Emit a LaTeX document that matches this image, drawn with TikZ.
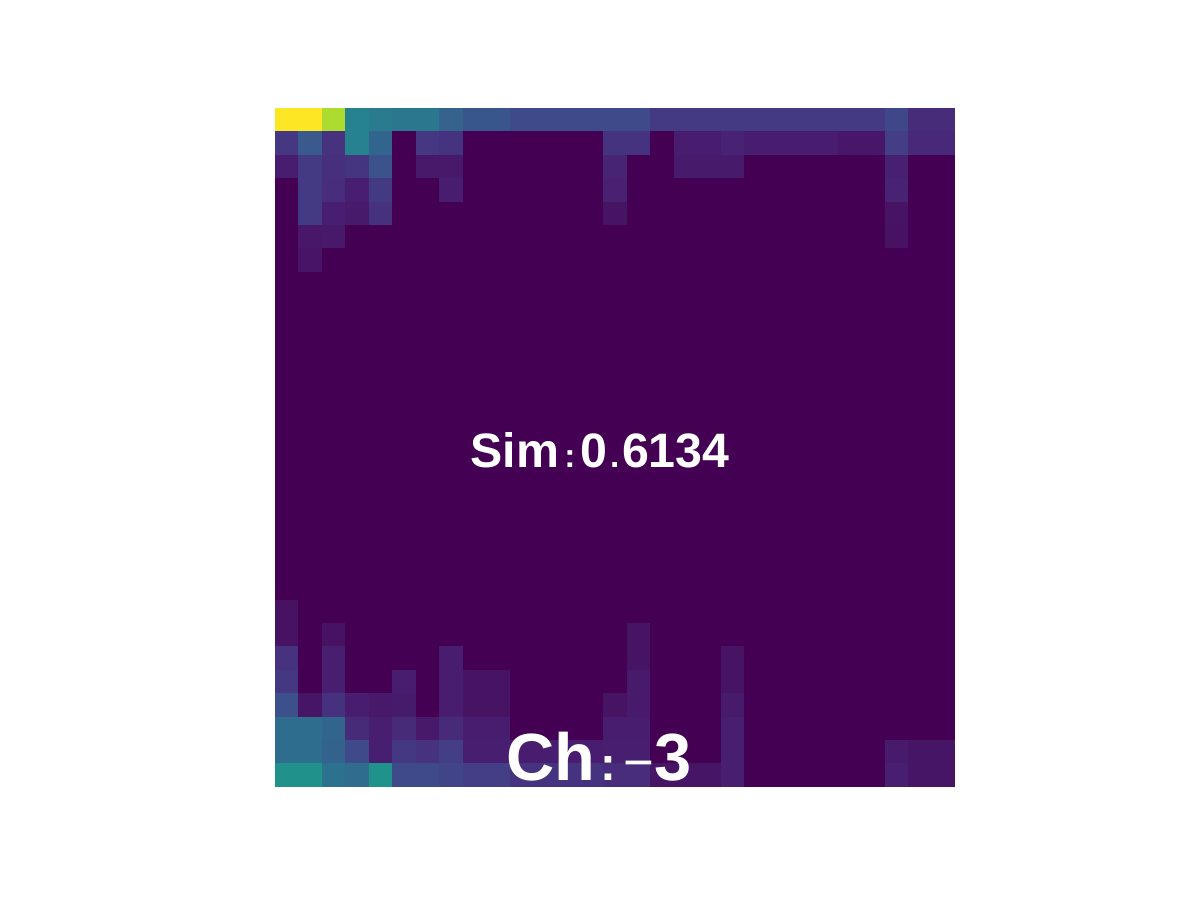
\documentclass[tikz,border=0pt]{standalone}
\usepackage{fontspec}
\setmainfont{Liberation Sans}
\definecolor{heatbg}{HTML}{440154}

\begin{document}
\begin{tikzpicture}[x=0.02cm,y=-0.02cm,
    label/.style={text=white,font=\bfseries,inner sep=0pt,anchor=base}]
    \useasboundingbox (0,0) rectangle (1200,900);
    \fill[heatbg] (275,108) rectangle (955,787);
    % top rows
    \foreach \c/\r/\w/\h in {0/0/2/FDE725,2/0/1/ADDC30,3/0/1/26828E,4/0/1/2B7B8E,5/0/2/2A788E,7/0/1/35638D,8/0/2/39568C,10/0/6/3E4A89,16/0/10/443983,26/0/1/3F4788,27/0/2/472C7A,
      0/1/1/453781,1/1/1/3A598C,2/1/1/46327E,3/1/1/26828E,4/1/1/31658E,6/1/1/453781,7/1/1/46337F,14/1/2/46337F,17/1/2/481C6E,19/1/1/482374,20/1/4/481C6E,24/1/2/48176A,26/1/1/433E85,27/1/2/482878,
      0/2/1/481D6F,1/2/1/443A83,2/2/1/46307E,3/2/1/453581,4/2/1/3B528B,6/2/2/48186A,14/2/1/482475,17/2/2/481A6C,19/2/1/481A6C,26/2/1/482071,
      1/3/1/443A83,2/3/1/472D7B,3/3/1/481F70,4/3/1/443983,7/3/1/481C6E,14/3/1/482173,26/3/1/482374,
      1/4/1/443A83,2/4/1/481F70,3/4/1/481A6C,4/4/1/46317E,14/4/1/471363,26/4/1/471363,
      1/5/1/481769,2/5/1/48186A,26/5/1/471262,
      1/6/1/481467}
      {\definecolor{cellc}{HTML}{\h}
       \fill[cellc] ({275+\c*23.45},{108+\r*23.41}) rectangle ++({\w*23.45},23.41);}
    % bottom rows
    \foreach \c/\r/\w/\h in {0/21/1/471262,0/22/1/471262,2/22/1/471262,15/22/1/471363,
      0/23/1/46327E,2/23/1/481E70,7/23/1/481C6E,15/23/1/471363,19/23/1/471363,
      0/24/1/453882,2/24/1/481F70,5/24/1/481C6E,7/24/1/481C6E,8/24/2/471363,15/24/1/481A6C,19/24/1/471363,
      0/25/1/3C508B,1/25/1/471565,2/25/1/46317E,3/25/1/481D6F,4/25/1/48186A,5/25/1/471B6C,7/25/1/481C6E,8/25/2/471363,14/25/1/471363,15/25/1/481A6C,19/25/1/481A6C,
      0/26/2/2E6D8E,2/26/1/32658E,3/26/1/472A78,4/26/1/481F70,5/26/1/472A78,6/26/1/48186A,7/26/1/472A78,8/26/2/481C6E,14/26/2/481C6E,19/26/1/481F70,
      0/27/2/2E6D8E,2/27/1/33628D,3/27/1/3E4A89,4/27/1/481F70,5/27/1/453882,6/27/1/46327E,7/27/1/433E85,8/27/2/481F70,10/27/4/481C6E,14/27/2/481F70,19/27/1/481F70,26/27/1/481A6C,27/27/2/471565,
      0/28/2/21918C,2/28/1/2C728E,3/28/1/2F6C8E,4/28/1/20928C,5/28/2/3E4A89,7/28/1/414487,8/28/2/433E85,10/28/4/46337F,14/28/2/472D7B,16/28/3/471565,19/28/1/481F70,26/28/1/481F70,27/28/2/471565}
      {\definecolor{cellc}{HTML}{\h}
       \fill[cellc] ({275+\c*23.45},{108+\r*23.41}) rectangle ++({\w*23.45},23.41);}
    \node[label] (sim) at (600,467) {\fontsize{27.5}{30}\selectfont Sim{\fontsize{19}{20}\selectfont\kern3pt:\kern3pt}0{\fontsize{19}{20}\selectfont\kern1.5pt.\kern1.5pt}6134};
    \node[label] (ch) at (599,780) {\fontsize{38}{42}\selectfont Ch{\fontsize{27}{30}\selectfont\kern3pt:\kern4pt}{\mdseries\fontsize{30}{32}\selectfont −}3};
\end{tikzpicture}
\end{document}
